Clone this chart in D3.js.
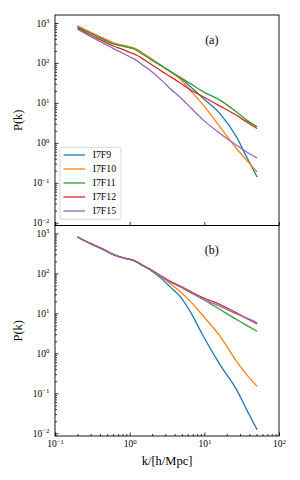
<!DOCTYPE html>
<html>
<head>
<meta charset="utf-8">
<script src="https://cdn.jsdelivr.net/npm/d3@7"></script>
<style>
  body { margin: 0; background: #fff; }
</style>
</head>
<body>
<div id="pk_plot"></div>
<script>
// wavenumbers k [h/Mpc], shared by every curve
const kValues = [0.2, 0.3, 0.45, 0.6, 0.8, 1.0, 1.18, 1.4, 1.87, 2.8, 3.47, 4.7, 6.42, 9.7, 16.2, 27, 36.9, 50.9];

const seriesNames = ["I7F9", "I7F10", "I7F11", "I7F12", "I7F15"];

// panel (a)
const topI7F9  = [830, 575, 405, 315, 275, 250, 228, 188, 133, 80, 62, 43, 26, 12.9, 5.4, 1.4, 0.44, 0.139];
const topI7F10 = [855, 585, 412, 320, 279, 254, 232, 191, 134, 79, 60, 40, 21, 8.75, 2.5, 0.72, 0.365, 0.186];
const topI7F11 = [780, 545, 385, 300, 262, 238, 217, 178, 126, 80, 62, 44, 30.7, 18.9, 11.7, 5.9, 3.7, 2.5];
const topI7F12 = [736, 500, 347, 265, 219, 184, 164, 138, 97, 59, 46, 32, 21.7, 14.2, 8.3, 4.9, 3.33, 2.28];
const topI7F15 = [695, 454, 309, 232, 177, 143, 123, 97, 66, 34, 23, 14, 7.9, 3.7, 1.72, 0.87, 0.59, 0.417];

// panel (b)
const botI7F9  = [817, 555, 393, 300, 247, 225, 204, 169, 124, 68, 46, 27, 11.4, 2.68, 0.52, 0.123, 0.039, 0.0122];
const botI7F10 = [817, 555, 393, 300, 247, 225, 204, 169, 126, 76, 56, 36, 20.5, 8.5, 2.68, 0.63, 0.293, 0.149];
const botI7F11 = [817, 555, 393, 300, 247, 225, 204, 169, 126, 79, 62, 47, 34, 22.3, 12.5, 7.0, 5.0, 3.57];
const botI7F12 = [817, 555, 393, 300, 249, 228, 207, 172, 128, 81, 64, 49, 36, 24.5, 16.7, 10.3, 7.45, 5.46];
const botI7F15 = [817, 555, 393, 300, 247, 225, 204, 170, 127, 80, 63, 47, 34.7, 22.3, 15.2, 9.7, 7.7, 5.78];

const xMajorExp = [-1, 0, 1, 2];
const yMajorExp = [-2, -1, 0, 1, 2, 3];

document.addEventListener('DOMContentLoaded', function() {
    const colors = ["#1f77b4", "#ff7f0e", "#2ca02c", "#d62728", "#9467bd"];
    const margin = { top: 15, right: 21, bottom: 44, left: 55 },
        width = 300 - margin.left - margin.right,
        panelH = (480 - margin.top - margin.bottom) / 2;

    const panels = [
        { tag: "(a)", series: [topI7F9, topI7F10, topI7F11, topI7F12, topI7F15] },
        { tag: "(b)", series: [botI7F9, botI7F10, botI7F11, botI7F12, botI7F15] }
    ];

    const svg = d3.select("#pk_plot").append("svg")
        .attr("width", 300)
        .attr("height", 480)
        .attr("font-family", "'Liberation Serif', 'DejaVu Serif', serif");

    const x = d3.scaleLog().domain([0.1, 100]).range([0, width]);
    const y = d3.scaleLog().domain([Math.pow(10, -2.07), Math.pow(10, 3.2)]).range([panelH, 0]);

    const minorOf = exps => exps.slice(0, -1).flatMap(e => d3.range(2, 10).map(m => m * Math.pow(10, e)));
    const xMinor = minorOf(xMajorExp);
    const yMinor = minorOf([-3].concat(yMajorExp)).filter(v => v >= y.domain()[0] && v <= y.domain()[1]);

    // "10" with a superscript exponent
    const powLabel = function(sel) {
        sel.each(function(d) {
            const e = Math.round(Math.log10(d));
            const t = d3.select(this).text(null);
            t.append("tspan").text("10");
            t.append("tspan").attr("font-size", "6.8px").attr("dy", "-0.55em")
                .text(e < 0 ? "\u2212" + (-e) : String(e));
        });
    };

    const line = d3.line()
        .x((d, i) => x(kValues[i]))
        .y(d => y(d))
        .curve(d3.curveMonotoneX);

    panels.forEach((p, pi) => {
        const g = svg.append("g")
            .attr("transform", `translate(${margin.left},${margin.top + pi * panelH})`);

        // curves
        p.series.forEach((vals, si) => {
            g.append("path")
                .datum(vals)
                .attr("fill", "none")
                .attr("stroke", colors[si])
                .attr("stroke-width", 1.3)
                .attr("d", line);
        });

        // y axis, ticks pointing in
        const yAx = g.append("g")
            .call(d3.axisLeft(y).tickValues(yMajorExp.map(e => Math.pow(10, e)))
                .tickSizeInner(-3.5).tickSizeOuter(0).tickPadding(5.5));
        yAx.selectAll("text").attr("font-size", "9.5px").call(powLabel);
        g.append("g")
            .call(d3.axisLeft(y).tickValues(yMinor).tickSizeInner(-2).tickSizeOuter(0).tickFormat(""));

        // x axis
        const xAx = g.append("g")
            .attr("transform", `translate(0,${panelH})`)
            .call(d3.axisBottom(x).tickValues(xMajorExp.map(e => Math.pow(10, e)))
                .tickSizeInner(-3.5).tickSizeOuter(0).tickPadding(4.5));
        if (pi === 1) {
            xAx.selectAll("text").attr("font-size", "9.5px").call(powLabel);
            g.append("g")
                .attr("transform", `translate(0,${panelH})`)
                .call(d3.axisBottom(x).tickValues(xMinor).tickSizeInner(-2).tickSizeOuter(0).tickFormat(""));
        } else {
            xAx.selectAll("text").remove();
        }

        g.selectAll(".domain").remove();
        g.selectAll(".tick line").attr("stroke", "#000").attr("stroke-width", 0.8);
        g.selectAll("g").attr("font-family", null);

        // frame
        g.append("rect")
            .attr("width", width)
            .attr("height", panelH)
            .attr("fill", "none")
            .attr("stroke", "#000")
            .attr("stroke-width", 0.9);

        // panel tag
        g.append("text")
            .attr("x", width * 0.70)
            .attr("y", panelH * 0.116)
            .attr("dy", "0.35em")
            .attr("text-anchor", "middle")
            .attr("font-size", "12px")
            .text(p.tag);

        // y label
        g.append("text")
            .attr("transform", `translate(${18 - margin.left},${panelH / 2}) rotate(-90)`)
            .attr("dy", "0.35em")
            .attr("text-anchor", "middle")
            .attr("font-size", "12.5px")
            .text("P(k)");
    });

    // x label
    svg.append("text")
        .attr("x", margin.left + width / 2)
        .attr("y", 461)
        .attr("dy", "0.35em")
        .attr("text-anchor", "middle")
        .attr("font-size", "12.5px")
        .text("k/[h/Mpc]");

    // legend in panel (a)
    const legend = svg.append("g").attr("transform", "translate(60,147.3)");
    legend.append("rect")
        .attr("width", 61)
        .attr("height", 72)
        .attr("rx", 2)
        .attr("fill", "#fff")
        .attr("fill-opacity", 0.8)
        .attr("stroke", "#cccccc")
        .attr("stroke-width", 0.8);
    seriesNames.forEach((name, i) => {
        const row = legend.append("g").attr("transform", `translate(0,${7.7 + i * 14})`);
        row.append("line")
            .attr("x1", 3.5).attr("x2", 25)
            .attr("stroke", colors[i])
            .attr("stroke-width", 1.3);
        row.append("text")
            .attr("x", 32.7)
            .attr("dy", "0.35em")
            .attr("font-size", "9.8px")
            .text(name);
    });
});
</script>
</body>
</html>
